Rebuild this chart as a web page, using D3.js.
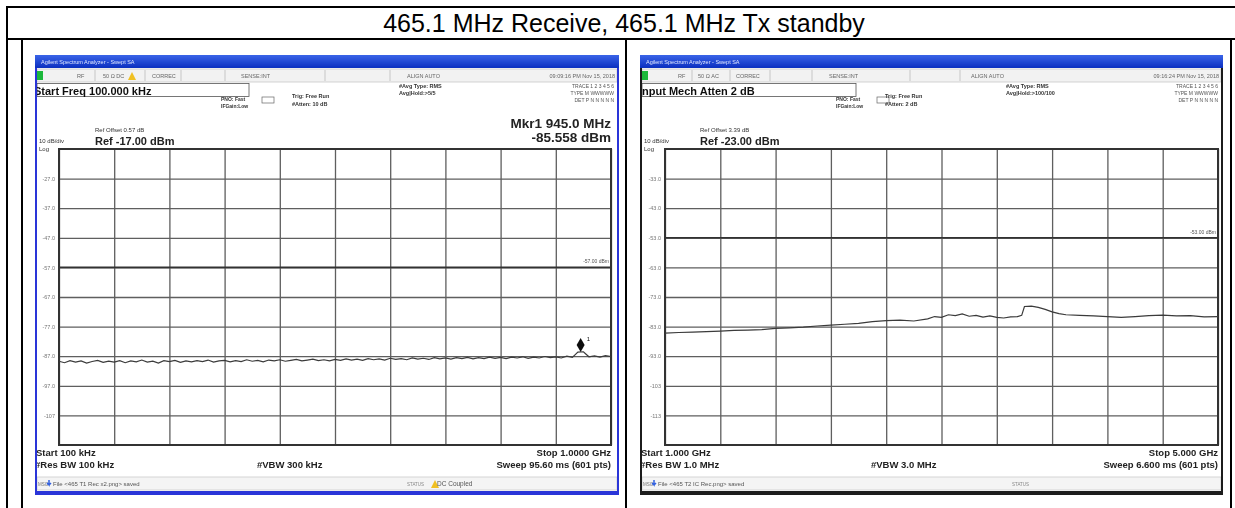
<!DOCTYPE html>
<html><head><meta charset="utf-8">
<script src="https://cdn.jsdelivr.net/npm/d3@7"></script>
<style>
html,body{margin:0;padding:0;background:#fff;}
svg{display:block;font-family:"Liberation Sans",Arial,sans-serif;}
</style></head><body>
<svg id="chart" width="1235" height="508"></svg>
<script>
// ---------------- DATA ----------------
const titleText = "465.1 MHz Receive, 465.1 MHz Tx standby";

// Left plot: 100 kHz .. 1 GHz
const leftStartMHz = 0.1, leftStopMHz = 1000;
const leftRefDbm = -17;
const leftDisplayLineDbm = -57;
const leftTickValues = [-27, -37, -47, -57, -67, -77, -87, -97, -107];
const leftTickLabels = ["-27.0", "-37.0", "-47.0", "-57.0", "-67.0", "-77.0", "-87.0", "-97.0", "-107"];
const leftTraceDbm = [
  -88.7,-89.2,-88.5,-89.0,-88.6,-89.3,-88.8,-88.4,-89.1,-88.7,
  -89.0,-88.5,-89.2,-88.6,-88.9,-88.3,-89.0,-88.7,-89.3,-88.5,
  -88.8,-88.4,-89.1,-88.6,-88.9,-88.5,-88.8,-88.3,-89.0,-88.6,
  -88.4,-88.9,-88.5,-88.8,-88.2,-88.7,-88.4,-88.9,-88.3,-88.6,
  -88.2,-88.7,-88.4,-88.1,-88.6,-88.3,-88.0,-88.5,-88.2,-88.6,
  -88.1,-88.4,-87.9,-88.3,-88.0,-88.4,-87.8,-88.2,-87.9,-88.3,
  -87.7,-88.1,-87.8,-88.2,-87.6,-88.0,-87.7,-88.1,-87.5,-87.9,
  -87.6,-88.0,-87.5,-87.8,-87.4,-87.9,-87.5,-87.8,-87.3,-87.7,
  -87.4,-87.8,-87.3,-87.6,-87.2,-87.7,-87.3,-87.6,-87.1,-87.5,
  -87.2,-87.6,-87.0,-87.4,-85.6,-85.5,-87.2,-86.9,-87.3,-86.8,
  -87.1
];
const leftMarkerMHz = 945.0, leftMarkerDbm = -85.558;

// Right plot: 1 GHz .. 5 GHz
const rightStartGHz = 1.0, rightStopGHz = 5.0;
const rightRefDbm = -23;
const rightDisplayLineDbm = -53;
const rightTickValues = [-33, -43, -53, -63, -73, -83, -93, -103, -113];
const rightTickLabels = ["-33.0", "-43.0", "-53.0", "-63.0", "-73.0", "-83.0", "-93.0", "-103", "-113"];
const rightFreqGHz = [1.0,1.1,1.2,1.3,1.4,1.5,1.6,1.7,1.8,1.9,2.0,2.1,2.2,2.3,2.4,2.5,2.6,2.7,2.8,2.9,
  2.95,3.0,3.05,3.1,3.15,3.2,3.25,3.3,3.35,3.4,3.45,3.5,3.55,3.58,3.6,3.65,3.7,3.75,3.8,3.85,3.9,
  4.0,4.1,4.2,4.3,4.4,4.5,4.6,4.7,4.8,4.9,5.0];
const rightTraceDbm = [-85.2,-85.0,-84.9,-84.7,-84.5,-84.3,-84.2,-84.0,-83.6,-83.4,-83.2,-82.8,-82.5,-82.2,-81.9,-81.3,-81.0,-80.8,-81.1,-80.4,
  -79.6,-79.9,-79.0,-79.3,-78.7,-79.5,-79.2,-79.8,-79.4,-79.9,-80.1,-79.7,-79.6,-79.2,-76.2,-76.1,-76.5,-77.2,-78.0,-78.6,-79.0,
  -79.2,-79.4,-79.6,-79.9,-79.6,-79.3,-79.1,-79.4,-79.3,-79.7,-79.6];

// ---------------- DRAW ----------------
const svg = d3.select("#chart");
const defs = svg.append("defs");
defs.append("filter").attr("id","soft").attr("filterUnits","userSpaceOnUse")
  .attr("x",0).attr("y",0).attr("width",1235).attr("height",508)
  .append("feGaussianBlur").attr("stdDeviation",0.4);
const tb = defs.append("linearGradient").attr("id","tbar").attr("x1",0).attr("y1",0).attr("x2",0).attr("y2",1);
tb.append("stop").attr("offset","0%").attr("stop-color","#3a64e8");
tb.append("stop").attr("offset","100%").attr("stop-color","#0b2fc0");

// table
const T = svg.append("g").attr("stroke","#000").attr("stroke-width",2);
T.append("line").attr("x1",6).attr("x2",1240).attr("y1",7).attr("y2",7);
T.append("line").attr("x1",6).attr("x2",1240).attr("y1",39).attr("y2",39);
[[7,6],[22,39],[626,39],[1231,39]].forEach(([x,y0])=>T.append("line").attr("x1",x).attr("x2",x).attr("y1",y0).attr("y2",520));
svg.append("text").attr("x",624).attr("y",32).attr("text-anchor","middle").attr("font-size",25).attr("fill","#000").text(titleText);

function drawWindow(cfg){
  const g = svg.append("g").attr("filter","url(#soft)");
  const x0=cfg.x0, x1=cfg.x1, top=55, bot=495;
  const clipId = "clip"+cfg.id;
  defs.append("clipPath").attr("id",clipId).append("rect").attr("x",x0+2).attr("y",top).attr("width",x1-x0-4).attr("height",bot-top-3);
  // frame
  g.append("rect").attr("x",x0).attr("y",top).attr("width",x1-x0).attr("height",bot-top).attr("fill",cfg.frame);
  g.append("rect").attr("x",x0+2).attr("y",top+13).attr("width",x1-x0-4).attr("height",bot-top-17).attr("fill","#fff");
  g.append("rect").attr("x",x0).attr("y",top).attr("width",x1-x0).attr("height",13).attr("fill","url(#tbar)");
  g.append("text").attr("x",x0+6).attr("y",top+9).attr("font-size",5.5).attr("fill","#dfe6ff").text("Agilent Spectrum Analyzer - Swept SA");
  const c = g.append("g").attr("clip-path",`url(#${clipId})`);
  // status row
  c.append("rect").attr("x",x0+2).attr("y",69).attr("width",x1-x0-4).attr("height",13).attr("fill","#f2f2f2").attr("stroke","#c8c8c8").attr("stroke-width",0.8);
  c.append("rect").attr("x",x0+1).attr("y",71).attr("width",7).attr("height",9).attr("fill","#1fb83a");
  const tiny = (x,y,t,o={})=>c.append("text").attr("x",x).attr("y",y).attr("font-size",o.fs||5.5).attr("fill",o.fill||"#666")
    .attr("font-weight",o.fw||"normal").attr("text-anchor",o.anchor||"start").text(t);
  cfg.statusItems.forEach(s=>tiny(x0+s[0],78,s[1]));
  cfg.statusSeps.forEach(sx=>c.append("line").attr("x1",x0+sx).attr("x2",x0+sx).attr("y1",70).attr("y2",81).attr("stroke","#bbb").attr("stroke-width",0.8));
  tiny(x1-4,78,cfg.date,{anchor:"end"});
  if(cfg.warnX){ c.append("path").attr("d",`M${x0+cfg.warnX},80 l4,-8 l4,8 z`).attr("fill","#f0c020"); }
  // top info box
  c.append("rect").attr("x",x0+2).attr("y",83.5).attr("width",cfg.boxW).attr("height",13).attr("fill","none").attr("stroke","#555").attr("stroke-width",0.8);
  tiny(x0-1,94.5,cfg.boxText,{fs:11,fw:"bold",fill:"#111"});
  tiny(x0+cfg.pnoX,101,"PNO: Fast",{fs:5,fw:"bold",fill:"#333"});
  tiny(x0+cfg.pnoX,108,"IFGain:Low",{fs:5,fw:"bold",fill:"#333"});
  c.append("rect").attr("x",x0+cfg.pnoX+41).attr("y",97).attr("width",12).attr("height",6).attr("fill","#fff").attr("stroke","#666").attr("stroke-width",0.7);
  tiny(x0+cfg.trigX,98,"Trig: Free Run",{fs:5.5,fw:"bold",fill:"#333"});
  tiny(x0+cfg.trigX,106,cfg.atten,{fs:5.5,fw:"bold",fill:"#333"});
  tiny(x0+cfg.avgX,88,"#Avg Type: RMS",{fs:5.5,fw:"bold",fill:"#333"});
  tiny(x0+cfg.avgX,95,cfg.avgHold,{fs:5.5,fw:"bold",fill:"#333"});
  tiny(x1-5,88,"TRACE 1 2 3 4 5 6",{fs:5,anchor:"end",fill:"#555"});
  tiny(x1-5,95,"TYPE M WWWWW",{fs:5,anchor:"end",fill:"#555"});
  tiny(x1-5,102,"DET P N N N N N",{fs:5,anchor:"end",fill:"#555"});
  // ref text
  tiny(cfg.refX,132,cfg.refOffset,{fs:6,fill:"#333"});
  tiny(x0+4,143,"10 dB/div",{fs:6,fill:"#333"});
  tiny(x0+4,151,"Log",{fs:6,fill:"#333"});
  tiny(cfg.refX,145,cfg.refText,{fs:11,fw:"bold",fill:"#222"});
  if(cfg.mkrText){
    tiny(cfg.gr,128,cfg.mkrText,{fs:13.5,fw:"bold",fill:"#222",anchor:"end"});
    tiny(cfg.gr,142,cfg.mkrVal,{fs:13.5,fw:"bold",fill:"#222",anchor:"end"});
  }
  // graticule
  const gt=149, gb=445;
  const x = d3.scaleLinear().domain(cfg.xDomain).range([cfg.gl,cfg.gr]);
  const y = d3.scaleLinear().domain([cfg.ref-100,cfg.ref]).range([gb,gt]);
  const xTicks = d3.range(11).map(i=>cfg.xDomain[0]+i*(cfg.xDomain[1]-cfg.xDomain[0])/10);
  c.append("g").attr("transform",`translate(0,${gb})`)
    .call(d3.axisBottom(x).tickValues(xTicks).tickSize(-(gb-gt)).tickFormat(""))
    .call(a=>a.select(".domain").remove())
    .call(a=>a.selectAll("line").attr("stroke","#5e5e5e").attr("stroke-width",1.3));
  c.append("g").attr("transform",`translate(${cfg.gl},0)`)
    .call(d3.axisLeft(y).tickValues(cfg.tickValues).tickSize(-(cfg.gr-cfg.gl)).tickPadding(4).tickFormat((d,i)=>cfg.tickLabels[i]))
    .call(a=>a.select(".domain").remove())
    .call(a=>a.selectAll("line").attr("stroke","#5e5e5e").attr("stroke-width",1.3))
    .call(a=>a.selectAll("text").attr("font-size",5.5).attr("fill","#777").attr("font-family","Liberation Sans, Arial, sans-serif"));
  // display line
  c.append("line").attr("x1",cfg.gl).attr("x2",cfg.gr).attr("y1",y(cfg.dl)).attr("y2",y(cfg.dl)).attr("stroke","#333").attr("stroke-width",1.6);
  tiny(cfg.gr-2,y(cfg.dl)-4,cfg.dl.toFixed(2)+" dBm",{fs:5,anchor:"end",fill:"#555"});
  c.append("rect").attr("x",cfg.gl).attr("y",gt).attr("width",cfg.gr-cfg.gl).attr("height",gb-gt).attr("fill","none").attr("stroke","#333").attr("stroke-width",2);
  // trace
  const line = d3.line().x(d=>x(d[0])).y(d=>y(d[1]));
  c.append("path").datum(cfg.trace).attr("d",line).attr("fill","none").attr("stroke","#3a3a3a").attr("stroke-width",1.2);
  if(cfg.marker){
    const mx=x(cfg.marker[0]), my=y(cfg.marker[1]);
    c.append("path").attr("d",`M${mx},${my} l-4,-7 l4,-7 l4,7 z`).attr("fill","#111");
    tiny(mx+6,my-11,"1",{fs:6,fill:"#111"});
  }
  // bottom text
  const b = cfg.bottom;
  tiny(x0+1,456,b.start,{fs:9.5,fw:"bold",fill:"#222"});
  tiny(cfg.gr,456,b.stop,{fs:9.5,fw:"bold",fill:"#222",anchor:"end"});
  tiny(x0,468,b.rbw,{fs:9.5,fw:"bold",fill:"#222"});
  tiny(b.vbwX,468,b.vbw,{fs:9.5,fw:"bold",fill:"#222"});
  tiny(cfg.gr,468,b.sweep,{fs:9.5,fw:"bold",fill:"#222",anchor:"end"});
  // status bar
  c.append("rect").attr("x",x0+2).attr("y",477).attr("width",x1-x0-4).attr("height",13).attr("fill","#f4f4f4").attr("stroke","#ccc").attr("stroke-width",0.8);
  tiny(x0+3,486,"MSG",{fs:4.5,fill:"#777"});
  c.append("path").attr("d",`M${x0+14},480 v5 l-2,-2 M${x0+14},485 l2,-2`).attr("stroke","#3060e0").attr("stroke-width",1.5).attr("fill","none");
  tiny(x0+18,486,b.file,{fs:6,fill:"#555"});
  tiny(b.statusX,486,"STATUS",{fs:4.5,fill:"#888"});
  if(b.dc){
    c.append("path").attr("d",`M${b.statusX+24},488 l4,-8 l4,8 z`).attr("fill","#f0c020");
    tiny(b.statusX+30,486,b.dc,{fs:6.5,fill:"#555"});
  }
}

drawWindow({
  id:"L", x0:35, x1:619, frame:"#2a35d8", gl:59, gr:611,
  xDomain:[leftStartMHz,leftStopMHz], ref:leftRefDbm, dl:leftDisplayLineDbm,
  tickValues:leftTickValues, tickLabels:leftTickLabels,
  trace:leftTraceDbm.map((v,i)=>[leftStartMHz+i*(leftStopMHz-leftStartMHz)/(leftTraceDbm.length-1),v]),
  marker:[leftMarkerMHz,leftMarkerDbm],
  statusItems:[[42,"RF"],[68,"50 \u03a9  DC"],[117,"CORREC"],[206,"SENSE:INT"],[372,"ALIGN AUTO"]],
  statusSeps:[60,110,146,190,290,355],
  warnX:93, date:"09:09:16 PM Nov 15, 2018",
  boxW:212, boxText:"Start Freq 100.000 kHz", pnoX:186, trigX:257, avgX:364,
  atten:"#Atten: 10 dB", avgHold:"Avg|Hold:>5/5",
  refX:95, refOffset:"Ref Offset 0.57 dB", refText:"Ref -17.00 dBm",
  mkrText:"Mkr1 945.0 MHz", mkrVal:"-85.558 dBm",
  bottom:{start:"Start 100 kHz", stop:"Stop 1.0000 GHz", rbw:"#Res BW 100 kHz", vbw:"#VBW 300 kHz", vbwX:257,
          sweep:"Sweep  95.60 ms (601 pts)", file:"File <465 T1 Rec x2.png> saved", statusX:407, dc:"DC Coupled"}
});

drawWindow({
  id:"R", x0:640, x1:1223, frame:"#1c1c1c", gl:665, gr:1218,
  xDomain:[rightStartGHz,rightStopGHz], ref:rightRefDbm, dl:rightDisplayLineDbm,
  tickValues:rightTickValues, tickLabels:rightTickLabels,
  trace:rightFreqGHz.map((f,i)=>[f,rightTraceDbm[i]]),
  marker:null,
  statusItems:[[38,"RF"],[58,"50 \u03a9  AC"],[96,"CORREC"],[189,"SENSE:INT"],[331,"ALIGN AUTO"]],
  statusSeps:[52,90,130,172,270,320],
  warnX:null, date:"09:16:24 PM Nov 15, 2018",
  boxW:214, boxText:"Input Mech Atten 2 dB", pnoX:196, trigX:245, avgX:366,
  atten:"#Atten: 2 dB", avgHold:"Avg|Hold:>100/100",
  refX:700, refOffset:"Ref Offset 3.39 dB", refText:"Ref -23.00 dBm",
  mkrText:null,
  bottom:{start:"Start 1.000 GHz", stop:"Stop 5.000 GHz", rbw:"#Res BW 1.0 MHz", vbw:"#VBW 3.0 MHz", vbwX:871,
          sweep:"Sweep  6.600 ms (601 pts)", file:"File <465 T2 IC Rec.png> saved", statusX:1012, dc:null}
});
</script>
</body></html>
